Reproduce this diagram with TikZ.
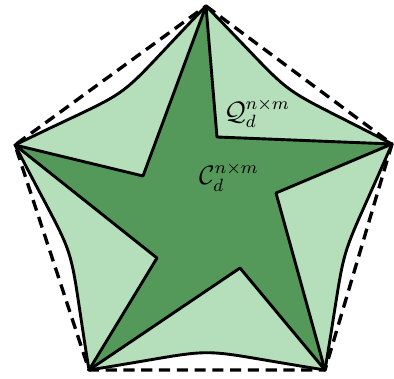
\documentclass[tikz,border=0pt]{standalone}
\usepackage{amsmath}
\usepackage{amsfonts}
\definecolor{lightgreen}{RGB}{181,222,186}
\definecolor{darkgreen}{RGB}{84,153,90}

\begin{document}
\begin{tikzpicture}[x=0.45pt,y=-0.45pt,line width=1.3pt,line join=round]
        \useasboundingbox (0,0) rectangle (394,379);
        % corners of the pentagon
        \coordinate (top) at (206,6);
        \coordinate (right) at (392,144);
        \coordinate (bright) at (325,370);
        \coordinate (bleft) at (89,370);
        \coordinate (left) at (15,145);
        % inner corners of the star
        \coordinate (itop) at (217,137);
        \coordinate (iright) at (276,193);
        \coordinate (ibottom) at (240,268);
        \coordinate (ileft) at (157,258);
        \coordinate (iupleft) at (143,176);

        \draw[fill=lightgreen,looseness=1.6] (top) to[bend right=9] (right) to[bend right=7] (bright)
            to[bend right=9] (bleft) to[bend right=9] (left) to[bend right=10] (top) -- cycle;

        \draw[fill=darkgreen] (top) -- (itop) -- (right) -- (iright) -- (bright) -- (ibottom)
            -- (bleft) -- (ileft) -- (left) -- (iupleft) -- cycle;

        \draw[line width=1.5pt,dash pattern=on 5pt off 3pt] (top) -- (right) -- (bright) -- (bleft) -- (left) -- cycle;

        \node[font=\large] (qlabel) at (257,113) {$\mathcal{Q}_d^{n\times m}$};
        \node[font=\large] (clabel) at (229,177) {$\mathcal{C}_d^{n\times m}$};
    \end{tikzpicture}
\end{document}
